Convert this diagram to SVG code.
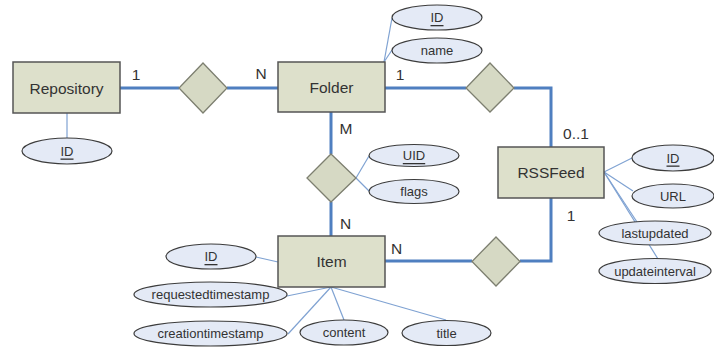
<svg xmlns="http://www.w3.org/2000/svg" width="714" height="348" viewBox="0 0 714 348">
  <style>
    .entity { fill: #dde0cb; stroke: #555555; stroke-width: 1.5; }
    .rel { fill: #d6d9c4; stroke: #7d7f70; stroke-width: 1.3; }
    .attr { fill: #e4eaf6; stroke: #3c3c3c; stroke-width: 1.2; }
    .link { fill: none; stroke: #4f7fc0; stroke-width: 3; }
    .alink { fill: none; stroke: #7fa2d2; stroke-width: 1.2; }
    text { font-family: "Liberation Sans", Arial, sans-serif; fill: #333333; text-anchor: middle; dominant-baseline: central; }
    .big { font-size: 15.5px; }
    .small { font-size: 13px; }
    .key { text-decoration: underline; }
  </style>

  <!-- connectors -->
  <g id="connectors">
    <!-- relationships -->
    <polyline class="link" points="120,88 179,88"/>
    <polyline class="link" points="227,88 278,88"/>
    <polyline class="link" points="385,88 466,88"/>
    <polyline class="link" points="514,88 551,88 551,147"/>
    <polyline class="link" points="331,112 331,154"/>
    <polyline class="link" points="331,202 331,236"/>
    <polyline class="link" points="385,261 472,261"/>
    <polyline class="link" points="520,261 551,261 551,198"/>
    <!-- attribute links -->
    <line class="alink" x1="67" y1="113" x2="67" y2="138"/>
    <line class="alink" x1="384" y1="62" x2="392" y2="18"/>
    <line class="alink" x1="384" y1="62" x2="392" y2="50"/>
    <line class="alink" x1="356" y1="178" x2="369" y2="156"/>
    <line class="alink" x1="356" y1="178" x2="369" y2="191"/>
    <line class="alink" x1="604" y1="172" x2="632" y2="158"/>
    <line class="alink" x1="604" y1="172" x2="633" y2="191"/>
    <line class="alink" x1="604" y1="172" x2="637" y2="222"/>
    <line class="alink" x1="604" y1="172" x2="658" y2="259"/>
    <line class="alink" x1="256" y1="257" x2="278" y2="262"/>
    <line class="alink" x1="331" y1="287" x2="287" y2="296"/>
    <line class="alink" x1="331" y1="287" x2="288" y2="334"/>
    <line class="alink" x1="331" y1="287" x2="344" y2="320"/>
    <line class="alink" x1="331" y1="287" x2="446" y2="320"/>
  </g>

  <!-- cardinality labels -->
  <g id="cardinalities">
    <text class="big" x="136" y="74">1</text>
    <text class="big" x="261" y="73">N</text>
    <text class="big" x="400" y="74">1</text>
    <text class="big" x="576" y="133">0..1</text>
    <text class="big" x="346" y="128">M</text>
    <text class="big" x="345.5" y="223.5">N</text>
    <text class="big" x="396.5" y="248.5">N</text>
    <text class="big" x="571" y="215.5">1</text>
  </g>

  <!-- entities -->
  <g id="repository">
    <rect class="entity" x="13" y="62" width="107" height="51"/>
    <text class="big" x="66.5" y="88">Repository</text>
  </g>
  <g id="folder">
    <rect class="entity" x="278" y="62" width="107" height="50"/>
    <text class="big" x="331.5" y="87">Folder</text>
  </g>
  <g id="rssfeed">
    <rect class="entity" x="498" y="147" width="106" height="51"/>
    <text class="big" x="551" y="172">RSSFeed</text>
  </g>
  <g id="item">
    <rect class="entity" x="278" y="236" width="107" height="51"/>
    <text class="big" x="331.5" y="261">Item</text>
  </g>

  <!-- relationships -->
  <g id="rel-repository-folder">
    <polygon class="rel" points="203,63 227,88 203,113 179,88"/>
  </g>
  <g id="rel-folder-rssfeed">
    <polygon class="rel" points="490,63 514,88 490,112 466,88"/>
  </g>
  <g id="rel-folder-item">
    <polygon class="rel" points="331,154 356,178 331,202 307,178"/>
  </g>
  <g id="rel-item-rssfeed">
    <polygon class="rel" points="496,237 520,261.5 496,286 472,261.5"/>
  </g>

  <!-- attributes -->
  <g id="repository-id">
    <ellipse class="attr" cx="67" cy="151" rx="45" ry="13"/>
    <text class="small key" x="67" y="151">ID</text>
  </g>
  <g id="folder-id">
    <ellipse class="attr" cx="437" cy="17.5" rx="45" ry="12.5"/>
    <text class="small key" x="437" y="17.5">ID</text>
  </g>
  <g id="folder-name">
    <ellipse class="attr" cx="437" cy="50.5" rx="45" ry="12.5"/>
    <text class="small" x="437" y="50.5">name</text>
  </g>
  <g id="membership-uid">
    <ellipse class="attr" cx="414" cy="155.5" rx="45" ry="11"/>
    <text class="small key" x="414" y="155.5">UID</text>
  </g>
  <g id="membership-flags">
    <ellipse class="attr" cx="414" cy="191.5" rx="45" ry="12"/>
    <text class="small" x="414" y="191.5">flags</text>
  </g>
  <g id="rssfeed-id">
    <ellipse class="attr" cx="673" cy="158" rx="41" ry="13"/>
    <text class="small key" x="673" y="158">ID</text>
  </g>
  <g id="rssfeed-url">
    <ellipse class="attr" cx="673" cy="196" rx="41" ry="12"/>
    <text class="small" x="673" y="196">URL</text>
  </g>
  <g id="rssfeed-lastupdated">
    <ellipse class="attr" cx="655" cy="233" rx="56" ry="12"/>
    <text class="small" x="655" y="233">lastupdated</text>
  </g>
  <g id="rssfeed-updateinterval">
    <ellipse class="attr" cx="655" cy="271" rx="56" ry="12.5"/>
    <text class="small" x="655" y="271">updateinterval</text>
  </g>
  <g id="item-id">
    <ellipse class="attr" cx="211" cy="256.5" rx="45" ry="12.5"/>
    <text class="small key" x="211" y="256.5">ID</text>
  </g>
  <g id="item-requestedtimestamp">
    <ellipse class="attr" cx="210.5" cy="294.5" rx="76.5" ry="12.5"/>
    <text class="small" x="210.5" y="294.5">requestedtimestamp</text>
  </g>
  <g id="item-creationtimestamp">
    <ellipse class="attr" cx="210.5" cy="333.5" rx="76.5" ry="12.5"/>
    <text class="small" x="210.5" y="333.5">creationtimestamp</text>
  </g>
  <g id="item-content">
    <ellipse class="attr" cx="344" cy="332.5" rx="44" ry="12.5"/>
    <text class="small" x="344" y="332.5">content</text>
  </g>
  <g id="item-title">
    <ellipse class="attr" cx="446.5" cy="333" rx="44.5" ry="12.5"/>
    <text class="small" x="446.5" y="333">title</text>
  </g>
</svg>
